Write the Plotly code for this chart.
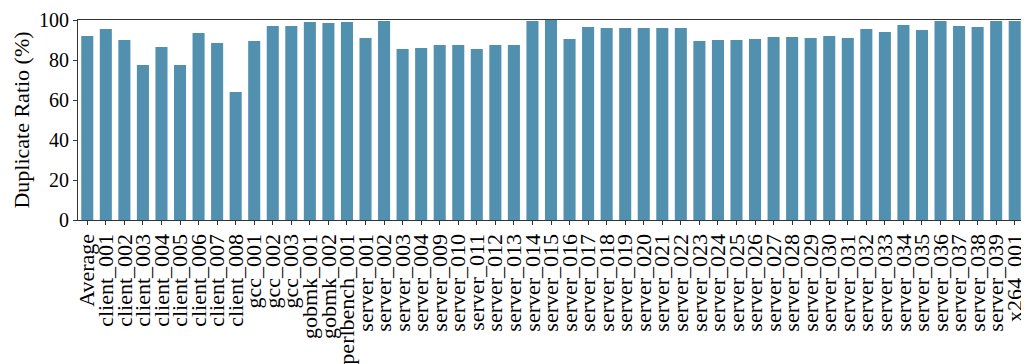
import plotly.graph_objects as go

categories = ["Average",
              "client_001", "client_002", "client_003", "client_004",
              "client_005", "client_006", "client_007", "client_008",
              "gcc_001", "gcc_002", "gcc_003", "gobmk_001", "gobmk_002",
              "perlbench_001",
              "server_001", "server_002", "server_003", "server_004",
              "server_009", "server_010", "server_011", "server_012",
              "server_013", "server_014", "server_015", "server_016",
              "server_017", "server_018", "server_019", "server_020",
              "server_021", "server_022", "server_023", "server_024",
              "server_025", "server_026", "server_027", "server_028",
              "server_029", "server_030", "server_031", "server_032",
              "server_033", "server_034", "server_035", "server_036",
              "server_037", "server_038", "server_039", "x264_001"]

duplicate_ratio = [92.0,
                   95.5, 90.0, 77.5, 86.5, 77.5, 93.5, 88.5, 64.0,
                   89.5, 97.0, 97.0, 99.0, 98.5,
                   99.0,
                   91.0, 99.5, 85.5, 86.0,
                   87.5, 87.5, 85.5, 87.5, 87.5, 99.5, 100.0, 90.5,
                   96.5, 96.0, 96.0, 96.0, 96.0, 96.0, 89.5, 90.0,
                   90.0, 90.5, 91.5, 91.5, 91.0, 92.0, 91.0, 95.5,
                   94.0, 97.5, 95.0, 99.5, 97.0, 96.5, 99.5, 99.5]

y_ticks = [0, 20, 40, 60, 80, 100]

font_family = "Liberation Serif, DejaVu Serif, serif"

fig = go.Figure(go.Bar(
    x=categories,
    y=duplicate_ratio,
    marker=dict(color="#5190ae", line=dict(width=0)),
    width=0.65,
))

fig.update_layout(
    width=1021, height=356,
    margin=dict(l=70, r=5, t=12, b=144, autoexpand=False),
    plot_bgcolor="white", paper_bgcolor="white",
    font=dict(family=font_family, size=20, color="black"),
    showlegend=False,
)

fig.update_xaxes(
    type="category",
    tickmode="linear", tick0=0, dtick=1,
    tickangle=-90,
    ticks="outside", ticklen=4, tickcolor="#333",
    showline=True, linecolor="#333", linewidth=1.2, mirror=True,
    showgrid=False, automargin=False,
    tickfont=dict(family=font_family, size=22),
    range=[-0.5, len(categories) - 0.5],
)

fig.update_yaxes(
    range=[0, 100],
    tickvals=y_ticks,
    ticks="outside", ticklen=4, tickcolor="#333",
    showline=True, linecolor="#333", linewidth=1.2, mirror=True,
    showgrid=False, zeroline=False, automargin=False,
    tickfont=dict(family=font_family, size=20),
    title=dict(text="Duplicate Ratio (%)", font=dict(family=font_family, size=22), standoff=3),
)

fig.write_html("out.html")
